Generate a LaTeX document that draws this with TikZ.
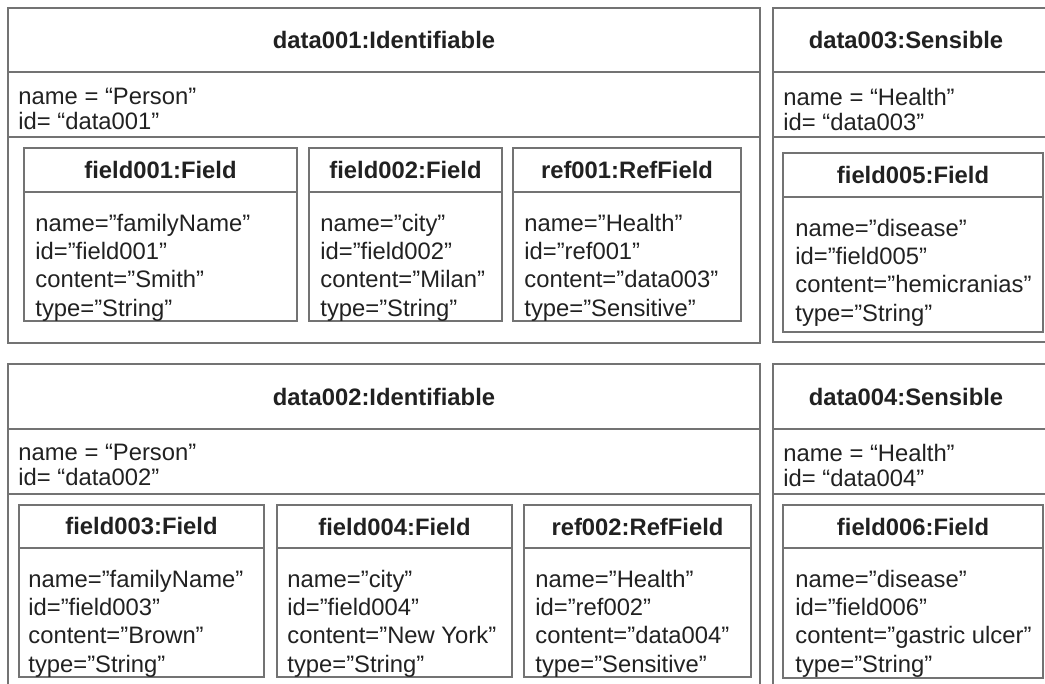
\documentclass[tikz,border=0pt]{standalone}
\usepackage{fontspec}
\setmainfont{Liberation Sans}
\definecolor{linegray}{gray}{0.45}
\definecolor{textgray}{gray}{0.13}
\tikzset{
	umlbox/.style = {draw=linegray, line width=0.65pt},
	umltitle/.style = {font=\fontsize{11.9}{14}\selectfont\bfseries, text=textgray, inner sep=0pt},
	objattr/.style = {anchor=north west, align=left, inner sep=0pt, text=textgray, font=\fontsize{11.9}{12.5}\selectfont},
	fieldattr/.style = {anchor=north west, align=left, inner sep=0pt, text=textgray, font=\fontsize{11.9}{14.2}\selectfont}
}

\begin{document}
\begin{tikzpicture}[x=0.5pt, y=-0.5pt]
	\useasboundingbox (0,0) rectangle (1045,684);
	% data001
	\draw [umlbox] (8,8) rectangle (760,343);
	\draw [umlbox] (8,72) -- (760,72);
	\draw [umlbox] (8,137) -- (760,137);
	\node [umltitle] (d001) at (384,40) {data001:Identifiable};
	\node [objattr] (d001attr) at (18,88) {name = “Person”\\id= “data001”};
	\draw [umlbox] (24,148) rectangle (297,321);
	\draw [umlbox] (24,192) -- (297,192);
	\node [umltitle] (f001) at (160.5,170) {field001:Field};
	\node [fieldattr] (f001attr) at (35,213.5) {name=”familyName”\\id=”field001”\\content=”Smith”\\type=”String”};
	\draw [umlbox] (309,148) rectangle (502,321);
	\draw [umlbox] (309,192) -- (502,192);
	\node [umltitle] (f002) at (405.5,170) {field002:Field};
	\node [fieldattr] (f002attr) at (320,213.5) {name=”city”\\id=”field002”\\content=”Milan”\\type=”String”};
	\draw [umlbox] (513,148) rectangle (741,321);
	\draw [umlbox] (513,192) -- (741,192);
	\node [umltitle] (r001) at (627,170) {ref001:RefField};
	\node [fieldattr] (r001attr) at (524,213.5) {name=”Health”\\id=”ref001”\\content=”data003”\\type=”Sensitive”};
	% data003
	\draw [umlbox] (1045,8) -- (773,8) -- (773,342) -- (1045,342);
	\draw [umlbox] (773,72) -- (1045,72);
	\draw [umlbox] (773,137) -- (1045,137);
	\node [umltitle] (d003) at (906,40) {data003:Sensible};
	\node [objattr] (d003attr) at (783,88) {name = “Health”\\id= “data003”};
	\draw [umlbox] (783,153) rectangle (1043,332);
	\draw [umlbox] (783,197) -- (1043,197);
	\node [umltitle] (f005) at (913,175) {field005:Field};
	\node [fieldattr] (f005attr) at (795,218.5) {name=”disease”\\id=”field005”\\content=”hemicranias”\\type=”String”};
	% data002
	\draw [umlbox] (8,684) -- (8,364) -- (760,364) -- (760,684);
	\draw [umlbox] (8,429) -- (760,429);
	\draw [umlbox] (8,494) -- (760,494);
	\node [umltitle] (d002) at (384,396.5) {data002:Identifiable};
	\node [objattr] (d002attr) at (18,444) {name = “Person”\\id= “data002”};
	\draw [umlbox] (19,505) rectangle (264,677);
	\draw [umlbox] (19,548) -- (264,548);
	\node [umltitle] (f003) at (141.5,526.5) {field003:Field};
	\node [fieldattr] (f003attr) at (28,569.5) {name=”familyName”\\id=”field003”\\content=”Brown”\\type=”String”};
	\draw [umlbox] (277,505) rectangle (512,677);
	\draw [umlbox] (277,548) -- (512,548);
	\node [umltitle] (f004) at (394.5,526.5) {field004:Field};
	\node [fieldattr] (f004attr) at (287,569.5) {name=”city”\\id=”field004”\\content=”New York”\\type=”String”};
	\draw [umlbox] (524,505) rectangle (751,677);
	\draw [umlbox] (524,548) -- (751,548);
	\node [umltitle] (r002) at (637.5,526.5) {ref002:RefField};
	\node [fieldattr] (r002attr) at (535,569.5) {name=”Health”\\id=”ref002”\\content=”data004”\\type=”Sensitive”};
	% data004
	\draw [umlbox] (1045,364) -- (773,364) -- (773,684);
	\draw [umlbox] (773,429) -- (1045,429);
	\draw [umlbox] (773,494) -- (1045,494);
	\node [umltitle] (d004) at (906,396.5) {data004:Sensible};
	\node [objattr] (d004attr) at (783,444) {name = “Health”\\id= “data004”};
	\draw [umlbox] (783,505) rectangle (1043,678);
	\draw [umlbox] (783,548) -- (1043,548);
	\node [umltitle] (f006) at (913,526.5) {field006:Field};
	\node [fieldattr] (f006attr) at (795,569.5) {name=”disease”\\id=”field006”\\content=”gastric ulcer”\\type=”String”};
\end{tikzpicture}
\end{document}
